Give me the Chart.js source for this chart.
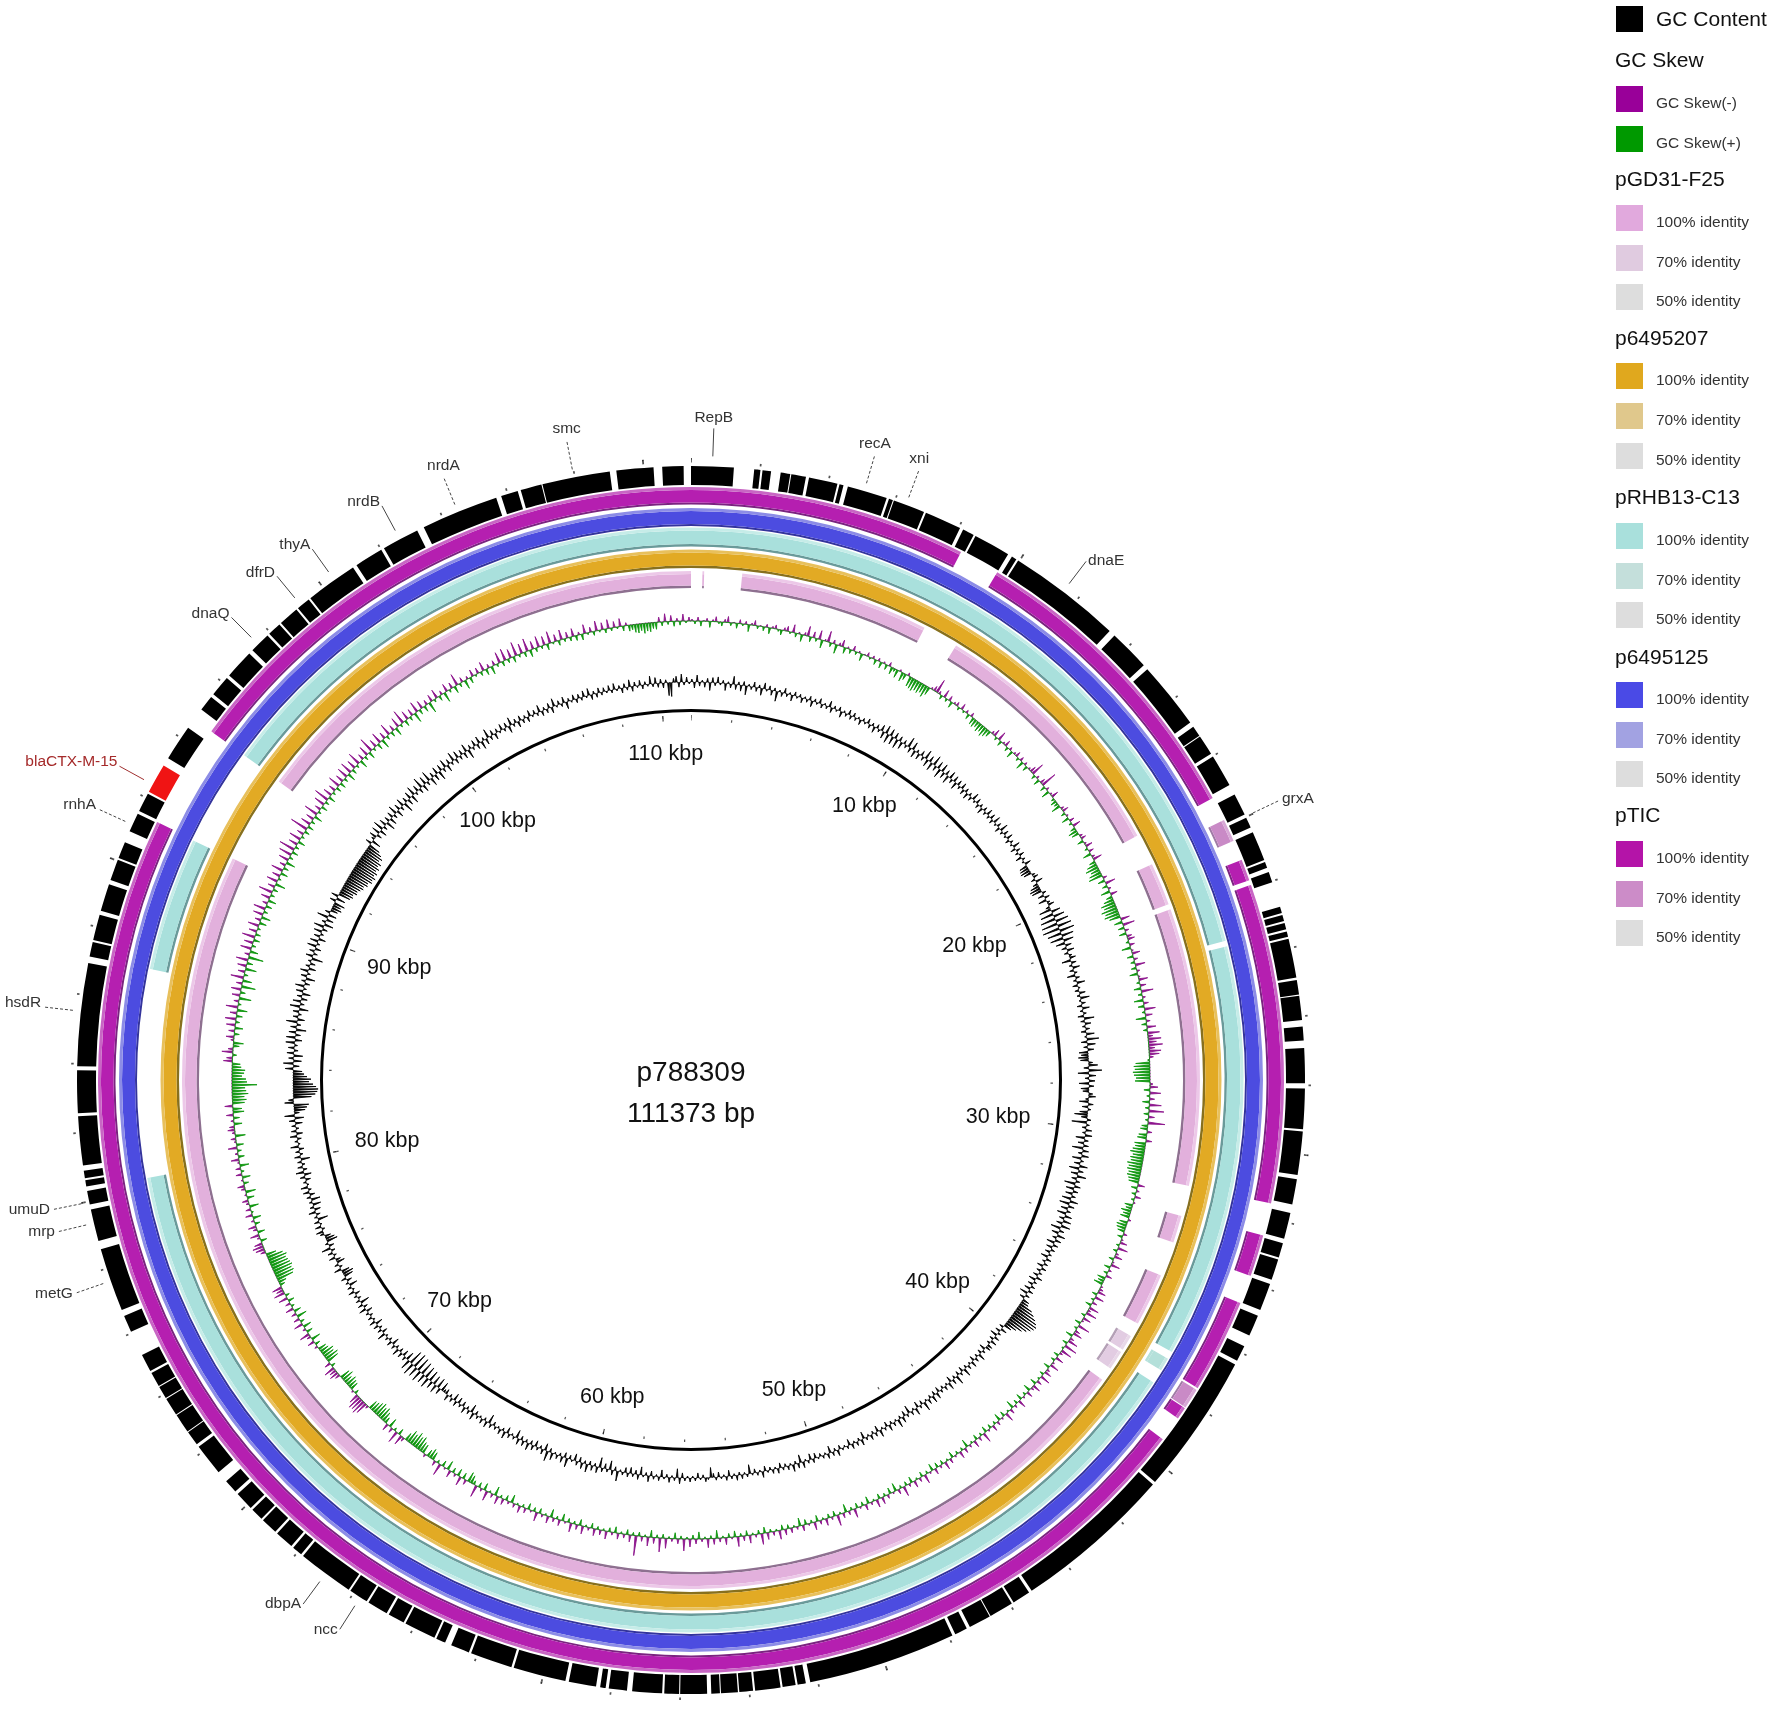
<!DOCTYPE html>
<html>
<head>
<meta charset="utf-8">
<title>p788309</title>
<script src="https://cdn.jsdelivr.net/npm/chart.js@4/dist/chart.umd.min.js"></script>
<style>
  html, body { margin: 0; background: #fff; }
  #page { position: relative; width: 1772px; height: 1709px; overflow: hidden; font-family: "Liberation Sans", Arial, sans-serif; filter: blur(0.45px); }
  #page canvas { position: absolute; left: 0; top: 0; }
  .swatch { position: absolute; left: 1616px; width: 27px; height: 26px; }
  .head { position: absolute; left: 1615px; font-size: 21px; line-height: 24px; color: #111; }
  .item { position: absolute; left: 1656px; font-size: 15.5px; line-height: 20px; color: #333; }
</style>
</head>
<body>
<div id="page">
  <canvas id="rings" width="1772" height="1709"></canvas>
  <canvas id="gc" width="1772" height="1709"></canvas>
  <canvas id="skew" width="1772" height="1709"></canvas>
</div>
<script>
// plasmid
const plasmidName = 'p788309';
const plasmidLength = 111.373; // kbp

// tick positions, kbp
const majorTicks = [0, 10, 20, 30, 40, 50, 60, 70, 80, 90, 100, 110];
const minorTicks = [0, 2, 4, 6, 8, 10, 12, 14, 16, 18, 20, 22, 24, 26, 28, 30, 32, 34, 36, 38, 40, 42, 44, 46, 48, 50, 52, 54, 56, 58, 60, 62, 64, 66, 68, 70, 72, 74, 76, 78, 80, 82, 84, 86, 88, 90, 92, 94, 96, 98, 100, 102, 104, 106, 108, 110];

// coding regions [start, end] kbp
const cdsSpans = [
  [0.00, 1.24], [1.83, 2.01], [2.07, 2.32], [2.60, 2.88], [2.91, 3.34], [3.43, 4.27], [4.33, 4.45], [4.58, 5.75],
  [5.82, 5.94], [5.97, 6.90], [6.96, 8.04], [8.14, 8.48], [8.54, 9.62], [9.75, 9.90], [9.96, 13.30], [13.49, 14.70],
  [14.85, 16.83], [16.98, 17.29], [17.32, 17.91], [18.01, 18.96], [19.27, 19.92], [20.02, 20.33], [20.48, 21.35], [21.41, 21.59],
  [21.72, 22.03], [22.77, 22.96], [23.02, 23.20], [23.26, 23.45], [23.51, 23.67], [23.73, 24.87], [24.94, 25.37], [25.40, 26.11],
  [26.30, 26.70], [26.92, 27.94], [28.09, 29.27], [29.33, 30.60], [30.72, 31.46], [31.71, 32.48], [32.61, 33.04], [33.10, 33.72],
  [33.85, 34.65], [34.83, 35.45], [35.79, 36.26], [36.38, 40.50], [40.59, 45.26], [45.35, 45.88], [45.94, 46.65], [46.68, 47.33],
  [47.43, 47.80], [47.89, 52.22], [52.35, 52.59], [52.65, 53.03], [53.09, 53.83], [53.89, 54.29], [54.33, 54.82], [54.85, 55.10],
  [55.22, 56.00], [56.03, 56.46], [56.52, 57.39], [57.54, 58.07], [58.16, 58.32], [58.44, 59.24], [59.34, 60.88], [60.95, 62.18],
  [62.25, 62.80], [62.99, 63.27], [63.33, 64.26], [64.32, 64.81], [64.88, 65.49], [65.55, 66.11], [66.17, 67.81], [67.88, 68.18],
  [68.25, 68.80], [68.87, 69.36], [69.42, 69.79], [69.86, 70.41], [70.51, 70.91], [71.25, 72.18], [72.27, 72.70], [72.73, 73.29],
  [73.32, 73.85], [73.88, 74.25], [74.28, 74.71], [74.78, 75.30], [76.04, 76.54], [76.72, 78.58], [78.83, 79.76], [79.91, 80.31],
  [80.44, 80.62], [80.68, 80.90], [81.05, 82.48], [82.57, 83.81], [83.93, 86.93], [87.12, 87.55], [87.61, 88.36], [88.48, 89.28],
  [89.41, 90.03], [90.09, 90.58], [90.92, 91.48], [91.57, 92.13], [92.19, 93.06, 'amr'], [93.31, 94.36], [95.01, 95.47], [95.57, 96.18],
  [96.28, 97.14], [97.27, 97.88], [97.95, 98.35], [98.41, 99.00], [99.06, 99.46], [99.52, 101.04], [101.16, 102.00], [102.09, 103.18],
  [103.39, 105.65], [105.80, 106.30], [106.39, 107.01], [107.04, 109.02], [109.21, 110.29], [110.54, 111.16]
];

// BLAST hits [start, end, identity] kbp
const pticSpans = [
  [0, 8.38, 100], [9.62, 19.06, 100], [19.80, 20.48, 70], [21.10, 21.75, 100], [21.90, 31.56, 100], [32.55, 33.81, 100],
  [34.68, 37.53, 100], [37.59, 38.21, 70], [38.24, 38.61, 100], [39.38, 91.51, 100], [94.67, 111.373, 100]
];
const p6495125Spans = [[0, 111.373, 100]];
const pRHB13Spans = [
  [0, 23.33, 100], [23.51, 36.97, 100], [37.22, 37.65, 90], [38.11, 80.37, 100], [87.12, 91.48, 100], [94.67, 111.373, 100]
];
const p6495207Spans = [[0, 111.373, 100]];
const pGD31Spans = [
  [0.40, 0.46, 100], [1.79, 8.45, 100], [9.71, 18.96, 100], [20.08, 21.59, 100], [21.78, 31.56, 100], [32.64, 33.60, 100],
  [34.83, 36.69, 100], [37.19, 37.74, 70], [37.84, 38.52, 70], [39.01, 91.51, 100], [94.64, 111.373, 100]
];

// GC skew per sample, + drawn outward (purple), - drawn inward (green)
const gcSkew = [
  2,-3,4,-5,1,3,-6,2,5,-2,-4,3,6,-3,1,-5,4,-2,3,-7,2,5,-3,1,-4,3,-6,2,4,-2,-5,3,
  5,-2,8,-4,2,-7,3,10,-5,6,-3,9,-8,2,11,-4,4,-9,3,7,-6,2,-4,5,-3,2,-7,1,4,-2,3,-5,
  3,-6,2,-5,4,-7,-3,-8,2,-9,-6,3,-10,-11,-12,-10,-11,-9,-12,-8,2,5,14,3,-4,8,-3,5,-6,2,4,-3,
  6,-2,3,-5,4,-7,-8,-6,-9,-7,-10,-8,-6,3,7,-3,9,-5,2,6,-4,3,-7,2,5,-3,4,-8,3,-5,2,6,
  13,-4,3,-6,5,16,-5,3,-8,2,7,-3,-6,-4,-9,3,6,-4,2,-7,5,-3,8,-5,-9,-7,3,5,-6,2,7,-3,
  5,-8,3,9,-6,-10,-13,-9,-12,-14,4,-7,10,-5,3,-9,7,-6,-10,-14,-12,-16,-13,-15,-11,9,-8,12,-6,4,-7,5,
  7,-3,5,-9,2,8,-6,4,-4,10,-5,3,-8,2,9,-3,6,-7,12,-4,3,-9,5,-6,11,-3,7,-10,4,-5,9,-4,
  12,5,13,8,14,6,12,10,4,-2,-14,-16,-15,-17,-16,-14,-15,3,8,-6,11,-3,5,-7,12,-4,15,-5,6,-3,17,-6,
  -7,5,-8,-9,6,-11,-10,-12,-14,-11,-13,-12,-15,-13,-14,-12,-13,-11,-10,7,-6,3,-4,6,-3,2,-8,-6,-10,-7,-9,3,
  -8,-10,-9,-7,4,-5,2,7,-3,10,-4,3,8,-5,2,9,-6,3,-4,6,-8,-6,-9,2,4,8,-5,9,-3,5,-6,10,
  3,11,-4,8,2,-6,12,-3,5,9,-7,4,10,-5,13,-2,11,3,-5,8,-4,2,9,-6,3,7,-4,10,-2,5,-6,8,
  3,-7,6,-3,2,-6,8,-4,3,-8,5,-2,9,-5,2,-7,4,-3,6,-4,2,-6,10,-3,4,-5,7,-2,3,-8,5,-3,
  7,-3,2,-6,5,-2,8,-4,3,-5,6,-7,2,-3,9,-5,4,-2,7,-6,3,-4,10,-3,5,-8,2,-6,4,-3,7,-5,
  8,-2,3,-7,6,-4,2,-5,9,-3,4,-8,5,-2,11,-5,3,-4,7,-2,4,-6,8,-3,2,-5,6,-8,3,-2,5,-4,
  6,-5,9,-2,4,-3,7,-6,11,-4,3,-2,8,-5,5,-3,10,-6,2,-4,7,-2,4,-8,6,-3,9,-2,3,-7,5,-4,
  8,-2,12,-3,5,-6,3,-2,10,-4,14,-3,6,-7,9,-2,5,-4,20,-3,7,-5,4,-2,6,-6,3,-4,8,-2,5,-3,
  7,-5,3,-2,8,-6,5,-3,9,-4,2,-7,6,-3,4,-8,7,-2,3,-5,9,-4,2,-6,5,-3,7,-2,4,-8,3,-5,
  6,-3,8,-9,4,-2,10,-7,3,-5,12,-4,-8,-10,5,-6,9,-7,3,-5,7,-9,2,-6,12,-3,5,-8,-10,-7,3,-9,
  -10,-14,-12,-15,-11,-13,-8,4,10,-6,12,-3,5,-9,7,-6,-10,-13,-11,-14,-12,-10,-9,3,12,15,13,14,10,-4,2,-8,
  -9,-11,-8,-12,-10,5,9,7,11,-4,6,-12,-14,-11,-13,-9,-8,3,-5,7,-9,4,10,-6,3,-8,9,-4,6,-10,5,-7,
  8,-3,5,-6,9,-4,11,7,10,-5,-8,-17,-19,-18,-20,-19,-18,-17,-19,-16,-10,5,9,11,8,-6,3,9,-7,4,8,-5,
  3,-8,7,-2,5,-9,3,6,-7,2,-10,4,7,-5,2,-8,6,-3,5,-9,2,8,-6,3,-4,9,-7,2,5,-10,3,7,
  5,-8,3,-6,7,-11,-9,8,-12,-14,-12,-16,-14,-13,-25,-15,-14,-10,-12,-13,-9,-8,9,6,-4,11,5,-6,-10,3,8,-5,
  6,-8,9,-4,11,-6,7,-10,12,-3,5,-12,8,-5,10,-14,6,-9,13,-4,7,-11,9,-6,12,-15,5,-8,11,-4,9,-6,
  13,-5,8,-3,11,-7,6,-9,10,-4,12,-6,5,-8,9,-4,14,-5,7,-10,11,-3,8,-7,12,-5,6,-9,10,-4,13,-6,
  16,-4,9,-7,12,-3,7,-5,18,-6,10,-4,8,-8,14,-3,6,-6,11,-4,15,-7,9,-3,7,-5,12,-6,8,-4,11,-8,
  12,-5,9,-3,13,-8,6,-4,10,-7,15,-3,8,-6,11,-9,7,-4,12,-5,6,-8,10,-3,14,-6,9,-4,7,-10,11,-5,
  8,-6,5,-11,7,-3,9,-5,4,-10,8,-3,6,-7,12,-4,5,-9,3,-6,7,-2,6,-4,9,-6,4,-8,5,-3,11,-5,
  12,-4,9,-6,14,-3,10,-5,13,-7,8,-4,11,-3,9,-6,12,-2,7,-5,10,-3,6,-4,8,-5,3,-6,9,-2,5,-4,
  10,-2,7,-4,9,-3,6,-2,8,-5,3,-6,-5,-8,-9,-7,-10,-8,-9,-6,-7,5,-4,8,-3,6,-5,3,-4,7,-2,4
];

// GC content deviation per sample
const gcContent = [
  3,-6,7,-4,2,-5,4,-8,5,-3,6,-2,3,-7,2,-4,8,-5,3,-6,4,-9,2,-3,5,-4,3,-7,6,-2,4,-5,
  3,-10,2,-4,5,-3,2,-6,4,-2,3,-5,2,-3,4,-6,3,-2,5,-4,2,-3,6,-5,3,-2,4,-6,2,-3,5,-4,
  4,-3,2,-5,3,-2,5,-4,3,-6,4,-3,6,-7,8,-9,7,-8,6,-9,5,-7,4,-3,10,-5,8,-7,3,-6,5,-4,
  9,-7,6,-8,10,-5,7,-9,8,-6,5,-8,7,-4,6,-7,5,-3,6,-5,4,-6,3,-4,7,-2,5,-4,3,-6,4,-3,
  6,-3,5,-4,7,-2,4,-5,8,-3,5,-2,6,-4,3,-2,7,-5,4,-3,5,-6,3,-2,6,-8,-9,-10,-8,3,5,-4,
  7,-5,-9,-11,-10,4,-6,5,-8,3,6,-4,-12,9,-13,11,-15,13,-16,14,-17,15,-14,12,-13,10,-9,6,-5,7,-4,3,
  6,-9,5,-3,7,-4,3,-8,4,-3,8,-5,2,-4,6,-3,9,-2,4,-5,7,-3,3,-6,10,-4,6,-3,4,-5,8,-2,
  12,-6,8,-4,6,-9,-7,-10,-8,4,9,-5,13,-11,7,-4,6,-10,5,-8,-6,4,7,-3,-9,5,-6,3,-8,-13,-6,4,
  -15,3,-4,6,-3,7,-9,4,-6,5,-11,6,-4,7,-9,3,-6,8,-10,5,-7,9,-5,4,-11,6,-8,5,-7,4,-9,8,
  -10,6,-7,4,-9,7,-5,8,-6,9,-10,5,-7,8,-4,6,-8,5,-6,4,-5,3,-7,5,-3,4,-6,5,-4,3,-5,6,
  -7,3,-5,4,-6,5,-8,4,-5,7,8,14,18,22,25,27,26,24,21,17,12,8,-4,6,-5,3,-7,5,-4,6,-3,5,
  5,-6,3,-4,7,-3,4,-5,6,-2,4,-3,8,-5,3,-4,9,-3,5,-6,7,-2,4,-3,3,-5,6,-4,7,-3,5,-2,
  9,-4,3,-6,7,-2,4,-8,3,-5,6,-3,8,-2,4,-3,6,-5,3,-2,7,-6,4,-3,5,-2,3,-7,6,-3,4,-2,
  5,-6,3,-2,2,-4,6,-3,4,-7,5,-2,3,-3,2,-5,4,-6,3,-2,6,-8,5,-3,7,-2,4,-3,3,-5,5,-2,
  4,-3,2,-5,6,-2,3,-4,2,-9,3,-2,4,-3,5,-2,3,-6,4,-2,2,-5,3,-4,-10,2,4,-3,2,-5,3,-2,
  4,-2,3,-5,6,-9,3,-2,5,-3,2,-7,4,-2,3,-5,6,-3,2,-8,5,-4,3,-6,4,-5,3,-2,10,-4,5,-9,
  3,-5,4,-10,6,-3,5,-4,8,-3,6,-5,4,-7,2,-4,9,-5,6,-3,4,-2,7,-4,10,-7,5,-3,3,-6,5,-4,
  7,-3,5,-4,6,-8,3,-2,4,-6,7,-3,5,-2,3,-4,4,-9,6,-3,5,-2,3,-4,7,-8,4,-3,6,-5,3,-6,
  5,-7,4,-3,6,-5,-3,-9,6,-10,8,-9,7,-11,10,-12,9,-13,11,-14,10,-15,12,-14,10,-8,4,-6,5,-4,7,-3,
  4,-7,5,-3,3,-2,8,-5,4,-3,5,-7,6,-2,4,-3,3,-6,7,-4,5,-9,4,-3,3,-5,6,-2,4,-8,3,-5,
  5,-9,-11,-8,7,-3,4,-8,-5,6,-3,5,-4,9,-5,3,-11,-9,-6,4,7,-3,6,-2,5,-10,3,-4,7,-6,4,-8,
  3,-9,4,-5,6,-3,7,-2,3,-5,5,-7,8,-4,5,-3,4,-9,6,-3,4,-5,8,-2,3,-4,7,-6,5,-3,4,-7,
  6,-9,10,-5,-11,-13,-15,9,5,-18,-22,-24,-25,-23,-20,-16,-18,-14,-11,-9,8,-6,10,-8,5,-9,7,-4,6,-3,9,-7,
  9,-5,7,-10,6,-4,11,-7,5,-3,6,-9,10,-4,8,-6,5,-8,7,-3,9,-5,4,-9,6,-3,8,-7,4,-5,3,-11,
  7,-4,5,-6,9,-3,8,-7,6,-3,8,-5,10,-9,4,-7,11,-8,5,-7,-10,-8,-11,6,-9,7,-12,-14,-13,-16,-15,-17,
  -19,-18,-21,-20,-23,-22,-24,-21,-23,-20,-22,-19,-21,-17,-19,-16,-12,6,-9,3,7,-5,8,-7,10,-4,7,-9,5,-7,6,-4,
  9,-7,6,-4,8,-10,5,-6,7,-8,9,-3,6,-5,11,-7,8,-4,10,-8,5,-6,7,-9,6,-4,8,-7,5,-3,9,-5,
  7,-4,5,-6,8,-9,4,-3,6,-5,7,-8,3,-6,9,-4,5,-6,4,-2,6,-3,5,-7,8,-3,4,-6,5,-4,3,-5,
  6,-2,4,-3,7,-5,3,-4,5,-6,8,-2,4,-3,6,-7,3,-2,5,-4,4,-3,6,-2,7,-5,3,-4,5,-3,4,-2,
  5,-3,6,-2,3,-5,4,-3,7,-5,4,-2,5,-4,3,-2,8,-3,6,-4,4,-5,3,-13,-14,4,6,-5,8,-3,5,-2
];

// annotated genes
const geneNames = ['RepB', 'recA', 'xni', 'dnaE', 'grxA', 'ncc', 'dbpA', 'metG', 'mrp', 'umuD', 'hsdR', 'rnhA', 'blaCTX-M-15', 'dnaQ', 'dfrD', 'thyA', 'nrdB', 'nrdA', 'smc'];
const genePositions = [0.62, 5.07, 6.34, 11.54, 19.98, 65.77, 66.98, 77.62, 79.36, 79.98, 85.52, 91.13, 92.43, 97.51, 99.18, 100.39, 102.62, 104.47, 107.97];
const dashedGenes = ['recA', 'xni', 'grxA', 'metG', 'mrp', 'umuD', 'hsdR', 'rnhA', 'nrdA', 'smc'];

// legend, top positions in px
const legendRows = [
  ['swatch', 'GC Content', 6, '#000000'],
  ['head', 'GC Skew', 48],
  ['swatch', 'GC Skew(-)', 86, '#990099'],
  ['swatch', 'GC Skew(+)', 126, '#009900'],
  ['head', 'pGD31-F25', 167],
  ['swatch', '100% identity', 205, '#e1a9dd'],
  ['swatch', '70% identity', 245, '#e0cbe0'],
  ['swatch', '50% identity', 284, '#dddddd'],
  ['head', 'p6495207', 326],
  ['swatch', '100% identity', 363, '#e0a81e'],
  ['swatch', '70% identity', 403, '#e0c88c'],
  ['swatch', '50% identity', 443, '#dddddd'],
  ['head', 'pRHB13-C13', 485],
  ['swatch', '100% identity', 523, '#a9e0dc'],
  ['swatch', '70% identity', 563, '#c4dfdb'],
  ['swatch', '50% identity', 602, '#dddddd'],
  ['head', 'p6495125', 645],
  ['swatch', '100% identity', 682, '#4a4ae6'],
  ['swatch', '70% identity', 722, '#a2a2e2'],
  ['swatch', '50% identity', 761, '#dddddd'],
  ['head', 'pTIC', 803],
  ['swatch', '100% identity', 841, '#b414a8'],
  ['swatch', '70% identity', 881, '#cc8cc8'],
  ['swatch', '50% identity', 920, '#dddddd']
];

const page = document.getElementById('page');
legendRows.forEach(row => {
  if (row[0] === 'head') {
    const d = document.createElement('div');
    d.className = 'head';
    d.style.top = row[2] + 'px';
    d.textContent = row[1];
    page.appendChild(d);
    return;
  }
  const box = document.createElement('div');
  box.className = 'swatch';
  box.style.top = row[2] + 'px';
  box.style.background = row[3];
  page.appendChild(box);
  const t = document.createElement('div');
  t.className = 'item';
  t.style.top = (row[2] + 7) + 'px';
  t.textContent = row[1];
  if (row[1] === 'GC Content') {
    t.style.fontSize = '21px';
    t.style.color = '#111';
    t.style.top = (row[2] + 3) + 'px';
  }
  page.appendChild(t);
});

// spans -> one ring of the doughnut, gaps are transparent slices
function ringFromSpans(spans, colorOf, weight) {
  const data = [], colors = [];
  let pos = 0;
  spans.forEach(s => {
    if (s[0] > pos) { data.push(s[0] - pos); colors.push('rgba(0,0,0,0)'); }
    data.push(s[1] - Math.max(s[0], pos));
    colors.push(colorOf(s));
    pos = s[1];
  });
  if (pos < plasmidLength) { data.push(plasmidLength - pos); colors.push('rgba(0,0,0,0)'); }
  return { data, backgroundColor: colors, borderWidth: 0, hoverOffset: 0, weight };
}
const spacer = weight => ({ data: [1], backgroundColor: ['rgba(0,0,0,0)'], borderWidth: 0, hoverOffset: 0, weight });
const tickSpans = (ticks, w) => ticks.map(t => [Math.max(0, t - w / 2), t + w / 2]);

// a hit track is three rings: light outer edge, main band, dark inner edge
function band(spans, shades, weights) {
  return shades.map((shade, i) => ringFromSpans(spans, s => shade[s[2]] || shade[100], weights[i]));
}
const pticBand = band(pticSpans, [{ 100: '#c866c4', 70: '#d8a8d6' }, { 100: '#b51fb0', 70: '#c98ac6' }, { 100: '#7a2480', 70: '#a07aa6' }], [3, 12.5, 2]);
const blueBand = band(p6495125Spans, [{ 100: '#8c8ce6' }, { 100: '#4c4ce0' }, { 100: '#34349c' }], [3, 13, 2]);
const tealBand = band(pRHB13Spans, [{ 100: '#c6ece8', 90: '#c8e8e4' }, { 100: '#a9e0dc', 90: '#b4e0da' }, { 100: '#6a9a9a', 90: '#b4e0da' }], [3, 13.5, 2.5]);
const goldBand = band(p6495207Spans, [{ 100: '#e8c05c' }, { 100: '#e2aa24' }, { 100: '#87701e' }], [3, 13, 2.5]);
const pinkBand = band(pGD31Spans, [{ 100: '#ecc8e8', 70: '#e8d8e8' }, { 100: '#e2b0dc', 70: '#e2cce2' }, { 100: '#8e7090', 70: '#b4a0b6' }], [3, 11.5, 2.5]);

const ringSets = [].concat(
  ringFromSpans(tickSpans(majorTicks, 0.05), () => '#333', 2),
  ringFromSpans(tickSpans(minorTicks, 0.05), () => '#555', 2.5),
  spacer(3.5),
  ringFromSpans(cdsSpans, s => (s[2] === 'amr' ? '#f01414' : '#000'), 19),
  spacer(2),
  pticBand,
  spacer(3.5),
  blueBand,
  spacer(1.5),
  tealBand,
  spacer(3),
  goldBand,
  spacer(3),
  pinkBand,
  spacer(121),
  ringFromSpans([[0, plasmidLength]], () => '#000', 3),
  spacer(3),
  ringFromSpans(tickSpans(majorTicks, 0.06), () => '#222', 3),
  ringFromSpans(tickSpans(minorTicks, 0.06), () => '#555', 2.5)
);

const chartPadding = { left: 69, top: 458, right: 459, bottom: 7 };
const kbpAngle = kb => (kb / plasmidLength) * 2 * Math.PI;

const textLayer = {
  id: 'textLayer',
  afterDraw(chart) {
    const ctx = chart.ctx;
    const a = chart.chartArea;
    const cx = (a.left + a.right) / 2, cy = (a.top + a.bottom) / 2;
    const at = (kb, r) => [cx + r * Math.sin(kbpAngle(kb)), cy - r * Math.cos(kbpAngle(kb))];
    ctx.save();
    ctx.textBaseline = 'middle';

    ctx.fillStyle = '#111';
    ctx.textAlign = 'center';
    ctx.font = '28px "Liberation Sans", Arial, sans-serif';
    ctx.fillText(plasmidName, cx, cy - 7);
    ctx.fillText('111373 bp', cx, cy + 34);

    ctx.font = '21.5px "Liberation Sans", Arial, sans-serif';
    majorTicks.forEach(t => {
      if (t === 0) return;
      const s = Math.abs(Math.sin(kbpAngle(t)));
      const p = at(t, 327 - 18 * s * s * s);
      ctx.fillText(t + ' kbp', p[0], p[1]);
    });

    ctx.font = '15.5px "Liberation Sans", Arial, sans-serif';
    geneNames.forEach((name, i) => {
      const kb = genePositions[i];
      const from = at(kb, dashedGenes.includes(name) ? 622 : 624);
      const to = at(kb, 652);
      const isRed = name.startsWith('bla');
      ctx.strokeStyle = isRed ? '#a03030' : '#444';
      ctx.lineWidth = 1;
      ctx.setLineDash(dashedGenes.includes(name) ? [3, 2] : []);
      ctx.beginPath();
      ctx.moveTo(from[0], from[1]);
      ctx.lineTo(to[0], to[1]);
      ctx.stroke();
      ctx.setLineDash([]);
      ctx.fillStyle = isRed ? '#a52a2a' : '#333';
      const off = Math.sin(kbpAngle(kb));
      if (Math.abs(off) < 0.42) {
        ctx.textAlign = 'center';
        ctx.fillText(name, to[0], to[1] - 11);
      } else if (off > 0) {
        ctx.textAlign = 'left';
        ctx.fillText(name, to[0] + 2, to[1] - 1);
      } else {
        ctx.textAlign = 'right';
        ctx.fillText(name, to[0] - 2, to[1] - (to[1] < cy ? 4 : 0));
      }
    });
    ctx.restore();
  }
};

new Chart(document.getElementById('rings'), {
  type: 'doughnut',
  data: { labels: [], datasets: ringSets },
  options: {
    responsive: false,
    animation: false,
    cutout: 359.5,
    layout: { padding: chartPadding },
    plugins: { legend: { display: false }, tooltip: { enabled: false } },
    events: []
  },
  plugins: [textLayer]
});

// each sample is a thin spike: baseline, value, baseline
const spike = v => [0, v, 0];
const spikeLabels = values => values.flatMap((_, i) => {
  const kb = ((i / values.length) * plasmidLength).toFixed(2);
  return [kb, kb, kb];
});

function radarOptions(baseline) {
  return {
    responsive: false,
    animation: false,
    layout: { padding: chartPadding },
    plugins: { legend: { display: false }, tooltip: { enabled: false } },
    events: [],
    elements: { point: { radius: 0 }, line: { tension: 0 } },
    scales: {
      r: {
        min: -baseline,
        max: 622 - baseline,
        grid: { display: false },
        angleLines: { display: false },
        ticks: { display: false },
        pointLabels: { display: false },
        border: { display: false }
      }
    }
  };
}

new Chart(document.getElementById('gc'), {
  type: 'radar',
  data: {
    labels: spikeLabels(gcContent),
    datasets: [{
      data: gcContent.flatMap(spike),
      borderColor: '#000',
      backgroundColor: '#000',
      borderWidth: 0.9,
      fill: { value: 0 }
    }]
  },
  options: radarOptions(398)
});

new Chart(document.getElementById('skew'), {
  type: 'radar',
  data: {
    labels: spikeLabels(gcSkew),
    datasets: [{
      data: gcSkew.flatMap(v => spike(Math.min(v, 0))),
      borderColor: '#0d960d',
      backgroundColor: '#0d960d',
      borderWidth: 0.9,
      fill: { value: 0 }
    }, {
      data: gcSkew.flatMap(v => spike(Math.max(v, 0))),
      borderColor: '#8c148c',
      backgroundColor: '#8c148c',
      borderWidth: 0.9,
      fill: { value: 0 }
    }]
  },
  options: radarOptions(459)
});
</script>
</body>
</html>
